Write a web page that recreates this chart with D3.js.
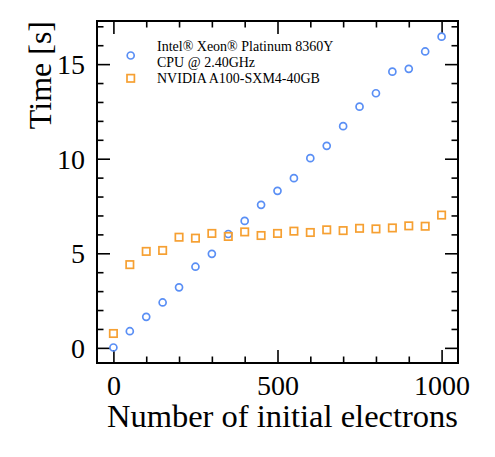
<!DOCTYPE html>
<html>
<head>
<meta charset="utf-8">
<script src="https://cdn.jsdelivr.net/npm/d3@7"></script>
<style>
  html, body { margin: 0; padding: 0; background: #fff; }
  text { font-family: "Liberation Serif", "Times New Roman", serif; fill: #000; }
</style>
</head>
<body>
<svg id="chart" width="495" height="457"></svg>
<script>
const electrons = [0,50,100,150,200,250,300,350,400,450,500,550,600,650,700,750,800,850,900,950,1000];
const cpuTimes = [0.02,0.88,1.64,2.40,3.20,4.29,4.97,6.02,6.71,7.56,8.30,8.97,10.03,10.68,11.72,12.75,13.46,14.60,14.75,15.67,16.45];
const gpuTimes = [0.76,4.40,5.10,5.15,5.85,5.80,6.05,5.89,6.13,5.94,6.05,6.17,6.10,6.24,6.20,6.32,6.29,6.34,6.45,6.43,7.02];
const seriesNames = ["Intel® Xeon® Platinum 8360Y", "CPU @ 2.40GHz", "NVIDIA A100-SXM4-40GB"];
const xMajorTicks = [0, 500, 1000];
const yMajorTicks = [0, 5, 10, 15];
const xLabel = "Number of initial electrons";
const yLabel = "Time [s]";

const blue = "#5a8ff5", orange = "#f6a032";
const svg = d3.select("#chart");
const L = 97, R = 458, T = 21, B = 363;

const x = d3.scaleLinear().domain([-50, 1050]).range([L, R]);
const y = d3.scaleLinear().domain([-0.8, 17.28]).range([B, T]);

const xMinor = d3.range(0, 1001, 100).filter(v => !xMajorTicks.includes(v));
const yMinor = d3.range(0, 18, 1).filter(v => !yMajorTicks.includes(v));

const maj = 13, mnr = 6.5;
const tickW = 1.6;

// Bottom axis
const gB = svg.append("g").attr("transform", `translate(0,${B})`);
gB.call(d3.axisBottom(x).tickValues(xMajorTicks).tickSize(-maj).tickPadding(12).tickFormat(d3.format("d")));
gB.append("g").call(d3.axisBottom(x).tickValues(xMinor).tickSize(-mnr).tickFormat(""));
// Top axis
const gT = svg.append("g").attr("transform", `translate(0,${T})`);
gT.call(d3.axisTop(x).tickValues(xMajorTicks).tickSize(-maj).tickFormat(""));
gT.append("g").call(d3.axisTop(x).tickValues(xMinor).tickSize(-mnr).tickFormat(""));
// Left axis
const gL = svg.append("g").attr("transform", `translate(${L},0)`);
gL.call(d3.axisLeft(y).tickValues(yMajorTicks).tickSize(-maj).tickPadding(12).tickFormat(d3.format("d")));
gL.append("g").call(d3.axisLeft(y).tickValues(yMinor).tickSize(-mnr).tickFormat(""));
// Right axis
const gR = svg.append("g").attr("transform", `translate(${R},0)`);
gR.call(d3.axisRight(y).tickValues(yMajorTicks).tickSize(-maj).tickFormat(""));
gR.append("g").call(d3.axisRight(y).tickValues(yMinor).tickSize(-mnr).tickFormat(""));

svg.selectAll(".domain").remove();
svg.selectAll(".tick line").attr("stroke", "#000").attr("stroke-width", tickW);
svg.selectAll(".tick text").style("font-family", '"Liberation Serif", "Times New Roman", serif').style("font-size", "28px").attr("fill", "#000");
gL.selectAll(".tick text").attr("dy", "0.34em");

// Frame
svg.append("rect").attr("x", L).attr("y", T).attr("width", R - L).attr("height", B - T)
  .attr("fill", "none").attr("stroke", "#000").attr("stroke-width", 2);

// Data
const plot = svg.append("g");
plot.selectAll(".cpu").data(electrons).enter().append("circle")
  .attr("cx", (d) => x(d)).attr("cy", (d, i) => y(cpuTimes[i])).attr("r", 3.5)
  .attr("fill", "none").attr("stroke", blue).attr("stroke-width", 1.7);
plot.selectAll(".gpu").data(electrons).enter().append("rect")
  .attr("x", d => x(d) - 3.7).attr("y", (d, i) => y(gpuTimes[i]) - 3.7).attr("width", 7.4).attr("height", 7.4)
  .attr("fill", "none").attr("stroke", orange).attr("stroke-width", 1.7);

// Legend
const lg = svg.append("g");
lg.append("circle").attr("cx", 130.7).attr("cy", 55.5).attr("r", 3.5)
  .attr("fill", "none").attr("stroke", blue).attr("stroke-width", 1.7);
lg.append("rect").attr("x", 130.7 - 3.7).attr("y", 78.3 - 3.7).attr("width", 7.4).attr("height", 7.4)
  .attr("fill", "none").attr("stroke", orange).attr("stroke-width", 1.7);
lg.append("text").attr("x", 157).attr("y", 51).style("font-size", "14px").text(seriesNames[0]);
lg.append("text").attr("x", 157).attr("y", 67.3).style("font-size", "14px").text(seriesNames[1]);
lg.append("text").attr("x", 157).attr("y", 83.3).style("font-size", "14px").text(seriesNames[2]);

// Axis labels
svg.append("text").attr("x", R).attr("y", 427).attr("text-anchor", "end")
  .style("font-size", "32.5px").text(xLabel);
svg.append("text").attr("transform", `translate(51,${T}) rotate(-90)`).attr("text-anchor", "end")
  .style("font-size", "32px").text(yLabel);
</script>
</body>
</html>
